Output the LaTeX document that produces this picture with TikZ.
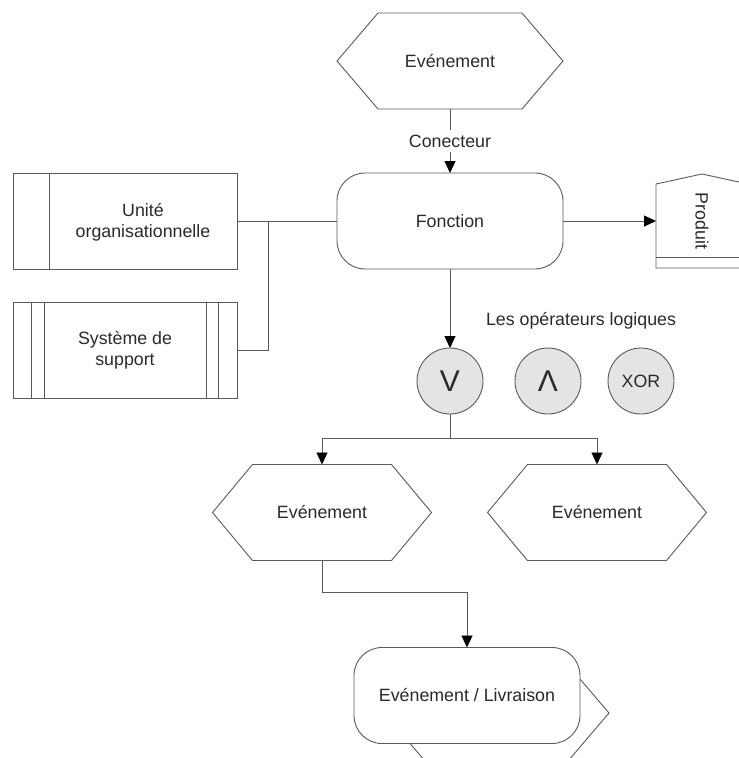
\documentclass[tikz,border=0pt]{standalone}
\usepackage{fontspec}
\setmainfont{Liberation Sans}
\usetikzlibrary{arrows.meta,calc}
\definecolor{linec}{HTML}{5A5A5A}
\definecolor{txt}{HTML}{2A2A2A}
\definecolor{opfill}{HTML}{E4E4E4}
\newcommand\hexshape[2]{\draw[ln] ([xshift=#2]#1.north west) -- ([xshift=-#2]#1.north east) -- (#1.east) -- ([xshift=-#2]#1.south east) -- ([xshift=#2]#1.south west) -- (#1.west) -- cycle;}
\begin{document}
\begin{tikzpicture}[x=1pt,y=-1pt, font=\fontsize{17.8}{21}\selectfont, text=txt,
  ln/.style={draw=linec, line width=0.9pt},
  arr/.style={ln, -{Triangle[width=11pt,length=12pt,fill=black,color=black]}},
  box/.style={ln, fill=white, minimum width=224pt, minimum height=96pt, inner sep=0pt, outer sep=0pt, align=center},
  rbox/.style={box, rounded corners=28pt, minimum width=226pt},
  evt/.style={minimum width=#1, minimum height=96pt, inner sep=0pt, outer sep=0pt},
  op/.style={circle, ln, fill=opfill, minimum size=66pt, inner sep=0pt, outer sep=0pt}]
\useasboundingbox (0,0) rectangle (739,758);
\clip (0,0) rectangle (739,758);

% events
\node[evt=226pt] (e1) at (450,61) {Evénement};
\hexshape{e1}{41pt}
\node[evt=219pt] (e2) at (322,512.5) {Evénement};
\hexshape{e2}{40pt}
\node[evt=219pt] (e3) at (597,512.5) {Evénement};
\hexshape{e3}{40pt}

% function
\node[rbox] (f) at (450,221) {Fonction};

% organisational unit
\node[box] (u) at (125,221) {};
\draw[ln] ([xshift=36pt]u.north west) -- ([xshift=36pt]u.south west);
\node[align=center] (ut) at (143,222) {Unité\\organisationnelle};

% support system
\node[box] (s) at (125,350) {Système de\\support};
\draw[ln] ([xshift=18pt]s.north west) -- ([xshift=18pt]s.south west);
\draw[ln] ([xshift=31pt]s.north west) -- ([xshift=31pt]s.south west);
\draw[ln] ([xshift=-31pt]s.north east) -- ([xshift=-31pt]s.south east);
\draw[ln] ([xshift=-19pt]s.north east) -- ([xshift=-19pt]s.south east);

% product
\node[minimum width=92pt, minimum height=84pt, inner sep=0pt, outer sep=0pt] (p) at (702,226) {};
\draw[ln] (p.south west) -- (p.north west) -- (702,174) -- (p.north east) -- (p.south east) -- cycle;
\draw[ln] (656,257) -- (748,257);
\node (pt) at (702,221) {\rotatebox{-90}{Produit}};

% operators
\node (lbl) at (581,321) {Les opérateurs logiques};
\node[op] (or) at (450,381) {\fontsize{30}{30}\selectfont V};
\node[op] (and) at (548,381) {\fontsize{30}{30}\selectfont Λ};
\node[op] (xor) at (641,381) {XOR};

% hidden event behind delivery
\node[evt=225pt] (e4) at (496.5,713) {};
\hexshape{e4}{41pt}
\node[rbox] (b) at (467,695.5) {Evénement / Livraison};

% connectors
\draw[arr] (e1.south) -- node[fill=white, inner sep=4.5pt] (c) {Conecteur} (f.north);
\draw[ln] (u.east) -- (f.west);
\coordinate (m) at (268,221);
\draw[ln] (s.east) -| (m);
\draw[arr] (f.east) -- (f.east -| p.west);
\draw[arr] (f.south) -- (or.north);
\coordinate (j) at (450,438);
\draw[ln] (or.south) -- (j);
\draw[arr] (j) -| (e2.north);
\draw[arr] (j) -| (e3.north);
\coordinate (k) at (322,592);
\draw[arr] (e2.south) -- (k) -| (b.north);
\end{tikzpicture}
\end{document}
